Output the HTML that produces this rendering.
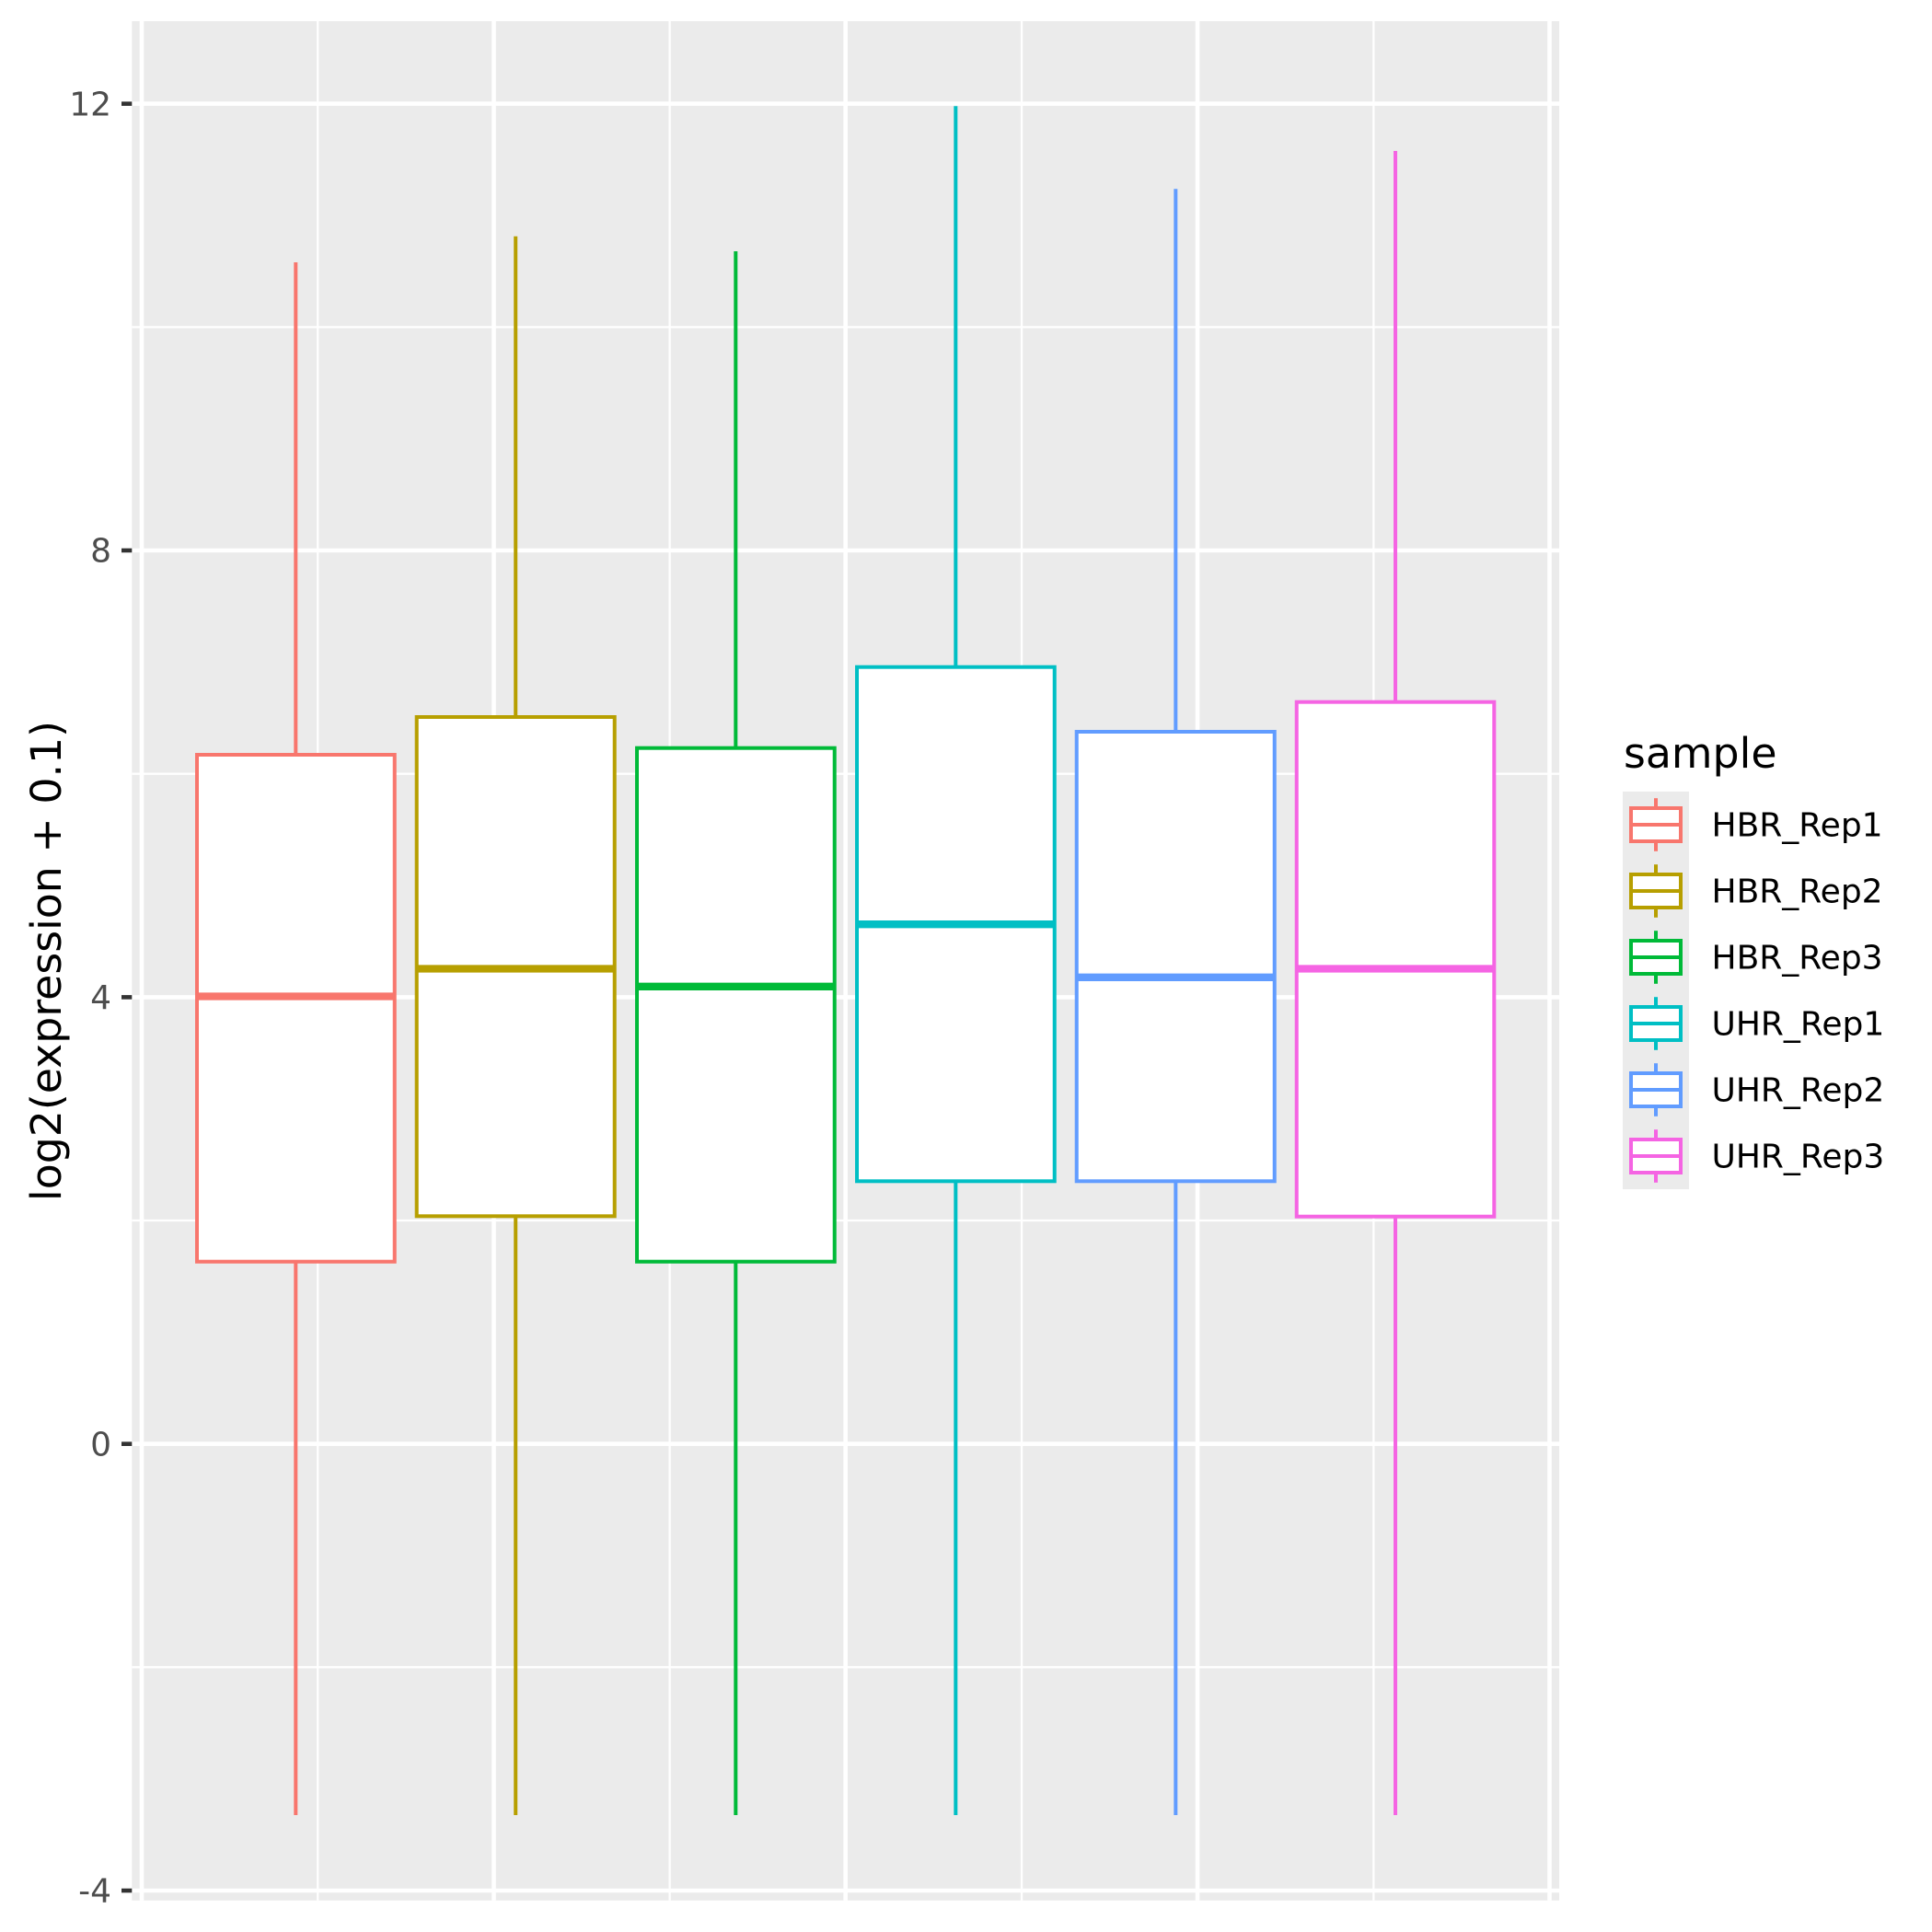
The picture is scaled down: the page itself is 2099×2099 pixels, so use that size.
<!DOCTYPE html>
<html>
<head>
<meta charset="utf-8">
<style>
  html,body{margin:0;padding:0;background:#ffffff;}
  svg{display:block;}
  text{font-family:"DejaVu Sans","Liberation Sans",sans-serif;}
</style>
</head>
<body>
<svg width="2099" height="2099" viewBox="0 0 2099 2099" xmlns="http://www.w3.org/2000/svg">
  <rect x="0" y="0" width="2099" height="2099" fill="#ffffff"/>
  <!-- panel -->
  <rect x="143.3" y="23" width="1550.7" height="2041.7" fill="#EBEBEB"/>
  <!-- minor grid -->
  <g stroke="#ffffff" stroke-width="2.3">
    <line x1="143.3" x2="1694" y1="1811.3" y2="1811.3"/>
    <line x1="143.3" x2="1694" y1="1326" y2="1326"/>
    <line x1="143.3" x2="1694" y1="840.7" y2="840.7"/>
    <line x1="143.3" x2="1694" y1="355.4" y2="355.4"/>
    <line y1="23" y2="2064.7" x1="345.2" x2="345.2"/>
    <line y1="23" y2="2064.7" x1="727.6" x2="727.6"/>
    <line y1="23" y2="2064.7" x1="1110" x2="1110"/>
    <line y1="23" y2="2064.7" x1="1492.3" x2="1492.3"/>
  </g>
  <!-- major grid -->
  <g stroke="#ffffff" stroke-width="4.6">
    <line x1="143.3" x2="1694" y1="2054" y2="2054"/>
    <line x1="143.3" x2="1694" y1="1568.7" y2="1568.7"/>
    <line x1="143.3" x2="1694" y1="1083.4" y2="1083.4"/>
    <line x1="143.3" x2="1694" y1="598" y2="598"/>
    <line x1="143.3" x2="1694" y1="112.7" y2="112.7"/>
    <line y1="23" y2="2064.7" x1="154" x2="154"/>
    <line y1="23" y2="2064.7" x1="536.5" x2="536.5"/>
    <line y1="23" y2="2064.7" x1="918.6" x2="918.6"/>
    <line y1="23" y2="2064.7" x1="1301" x2="1301"/>
    <line y1="23" y2="2064.7" x1="1683.5" x2="1683.5"/>
  </g>

  <!-- boxplots -->
  <!-- HBR_Rep1 -->
  <g stroke="#F8766D" stroke-width="4" fill="#ffffff">
    <line x1="321.3" x2="321.3" y1="285" y2="820"/>
    <line x1="321.3" x2="321.3" y1="1370.7" y2="1972"/>
    <rect x="214" y="820" width="214.7" height="550.7"/>
    <line x1="214" x2="428.7" y1="1082.5" y2="1082.5" stroke-width="8.3"/>
  </g>
  <!-- HBR_Rep2 -->
  <g stroke="#B79F00" stroke-width="4" fill="#ffffff">
    <line x1="560.2" x2="560.2" y1="256.7" y2="779"/>
    <line x1="560.2" x2="560.2" y1="1321.3" y2="1972"/>
    <rect x="452.7" y="779" width="215" height="542.3"/>
    <line x1="452.7" x2="667.7" y1="1052.5" y2="1052.5" stroke-width="8.3"/>
  </g>
  <!-- HBR_Rep3 -->
  <g stroke="#00BA38" stroke-width="4" fill="#ffffff">
    <line x1="799.3" x2="799.3" y1="273" y2="812.7"/>
    <line x1="799.3" x2="799.3" y1="1370.7" y2="1972"/>
    <rect x="692" y="812.7" width="214.7" height="558"/>
    <line x1="692" x2="906.7" y1="1071.8" y2="1071.8" stroke-width="8.3"/>
  </g>
  <!-- UHR_Rep1 -->
  <g stroke="#00BFC4" stroke-width="4" fill="#ffffff">
    <line x1="1038.3" x2="1038.3" y1="115.3" y2="724.7"/>
    <line x1="1038.3" x2="1038.3" y1="1283.3" y2="1972"/>
    <rect x="931" y="724.7" width="214.7" height="558.6"/>
    <line x1="931" x2="1145.7" y1="1004.2" y2="1004.2" stroke-width="8.3"/>
  </g>
  <!-- UHR_Rep2 -->
  <g stroke="#619CFF" stroke-width="4" fill="#ffffff">
    <line x1="1277.3" x2="1277.3" y1="205.3" y2="795"/>
    <line x1="1277.3" x2="1277.3" y1="1283.3" y2="1972"/>
    <rect x="1169.7" y="795" width="215" height="488.3"/>
    <line x1="1169.7" x2="1384.7" y1="1061.8" y2="1061.8" stroke-width="8.3"/>
  </g>
  <!-- UHR_Rep3 -->
  <g stroke="#F564E3" stroke-width="4" fill="#ffffff">
    <line x1="1516" x2="1516" y1="164" y2="762.7"/>
    <line x1="1516" x2="1516" y1="1321.7" y2="1972"/>
    <rect x="1408.7" y="762.7" width="214.6" height="559"/>
    <line x1="1408.7" x2="1623.3" y1="1052.5" y2="1052.5" stroke-width="8.3"/>
  </g>

  <!-- y axis ticks -->
  <g stroke="#333333" stroke-width="4.6">
    <line x1="132" x2="143.3" y1="2054" y2="2054"/>
    <line x1="132" x2="143.3" y1="1568.7" y2="1568.7"/>
    <line x1="132" x2="143.3" y1="1083.4" y2="1083.4"/>
    <line x1="132" x2="143.3" y1="598" y2="598"/>
    <line x1="132" x2="143.3" y1="112.7" y2="112.7"/>
  </g>
  <g fill="#4D4D4D" font-size="36" text-anchor="end">
    <text x="121" y="2066.7">-4</text>
    <text x="121" y="1581.4">0</text>
    <text x="121" y="1096.1">4</text>
    <text x="121" y="610.7">8</text>
    <text x="121" y="125.4">12</text>
  </g>
  <!-- y axis title -->
  <text transform="translate(66,1044) rotate(-90)" text-anchor="middle" font-size="45.8" fill="#000000">log2(expression + 0.1)</text>

  <!-- legend -->
  <text x="1764" y="834" font-size="45.8" fill="#000000">sample</text>
  <rect x="1763" y="860" width="72" height="432" fill="#EBEBEB"/>
  <g stroke-width="4" fill="#ffffff">
    <g stroke="#F8766D" transform="translate(1763,860)">
      <line x1="36" x2="36" y1="7.2" y2="18"/><line x1="36" x2="36" y1="54" y2="64.8"/>
      <rect x="9" y="18" width="54" height="36"/><line x1="9" x2="63" y1="36" y2="36"/>
    </g>
    <g stroke="#B79F00" transform="translate(1763,932)">
      <line x1="36" x2="36" y1="7.2" y2="18"/><line x1="36" x2="36" y1="54" y2="64.8"/>
      <rect x="9" y="18" width="54" height="36"/><line x1="9" x2="63" y1="36" y2="36"/>
    </g>
    <g stroke="#00BA38" transform="translate(1763,1004)">
      <line x1="36" x2="36" y1="7.2" y2="18"/><line x1="36" x2="36" y1="54" y2="64.8"/>
      <rect x="9" y="18" width="54" height="36"/><line x1="9" x2="63" y1="36" y2="36"/>
    </g>
    <g stroke="#00BFC4" transform="translate(1763,1076)">
      <line x1="36" x2="36" y1="7.2" y2="18"/><line x1="36" x2="36" y1="54" y2="64.8"/>
      <rect x="9" y="18" width="54" height="36"/><line x1="9" x2="63" y1="36" y2="36"/>
    </g>
    <g stroke="#619CFF" transform="translate(1763,1148)">
      <line x1="36" x2="36" y1="7.2" y2="18"/><line x1="36" x2="36" y1="54" y2="64.8"/>
      <rect x="9" y="18" width="54" height="36"/><line x1="9" x2="63" y1="36" y2="36"/>
    </g>
    <g stroke="#F564E3" transform="translate(1763,1220)">
      <line x1="36" x2="36" y1="7.2" y2="18"/><line x1="36" x2="36" y1="54" y2="64.8"/>
      <rect x="9" y="18" width="54" height="36"/><line x1="9" x2="63" y1="36" y2="36"/>
    </g>
  </g>
  <g font-size="36" fill="#000000">
    <text x="1859.5" y="908.7">HBR_Rep1</text>
    <text x="1859.5" y="980.7">HBR_Rep2</text>
    <text x="1859.5" y="1052.7">HBR_Rep3</text>
    <text x="1859.5" y="1124.7">UHR_Rep1</text>
    <text x="1859.5" y="1196.7">UHR_Rep2</text>
    <text x="1859.5" y="1268.7">UHR_Rep3</text>
  </g>
</svg>
</body>
</html>
